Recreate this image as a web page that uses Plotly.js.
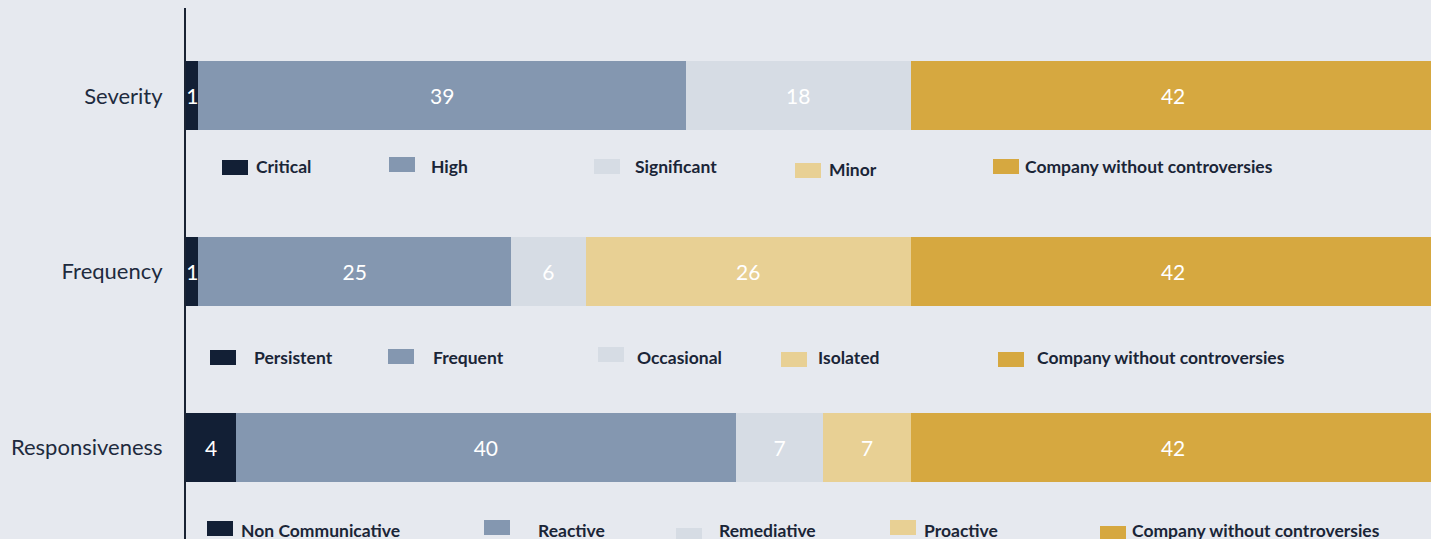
<!DOCTYPE html>
<html>
<head>
<meta charset="utf-8">
<script src="https://cdn.plot.ly/plotly-3.0.1.min.js"></script>
<style>html,body{margin:0;padding:0;background:#e6e9ef;}</style>
</head>
<body>
<div id="chart" style="width:1431px;height:539px;"></div>
<script>
// ---- data ----
const categories = ["Severity", "Frequency", "Responsiveness"];
const level1 = [1, 1, 4];      // Critical / Persistent / Non Communicative
const level2 = [39, 25, 40];   // High / Frequent / Reactive
const level3 = [18, 6, 7];     // Significant / Occasional / Remediative
const level4 = [0, 26, 7];     // Minor / Isolated / Proactive
const noControversy = [42, 42, 42]; // Company without controversies

const severityLabels = ["Critical", "High", "Significant", "Minor", "Company without controversies"];
const frequencyLabels = ["Persistent", "Frequent", "Occasional", "Isolated", "Company without controversies"];
const responsivenessLabels = ["Non Communicative", "Reactive", "Remediative", "Proactive", "Company without controversies"];

const colors = ["#121f35", "#8497b0", "#d6dce4", "#e8d094", "#d6a840"];
const seriesValues = [level1, level2, level3, level4, noControversy];

// ---- traces ----
const traces = seriesValues.map((vals, i) => ({
  type: "bar",
  orientation: "h",
  y: categories,
  x: vals,
  width: 0.393,
  marker: {color: colors[i]},
  text: vals.map(v => v > 0 ? String(v) : ""),
  textposition: "inside",
  insidetextanchor: "middle",
  constraintext: "none",
  textangle: 0,
  insidetextfont: {family: "Lato, sans-serif", size: 21, color: "#ffffff"},
  hoverinfo: "skip",
  showlegend: false
}));

// ---- custom legends under each bar (pixel placement -> paper) ----
const L = 186, T = 8, W = 1245, H = 531;
const px = x => (x - L) / W;
const py = y => 1 - (y - T) / H;

const legendRows = [
  {labels: severityLabels,
   sw: [[222,160],[389,157],[594,159],[795,163],[993,159]],
   tx: [[254,166],[429,166],[633,166],[827,169],[1023,166]]},
  {labels: frequencyLabels,
   sw: [[210,350],[388,349],[598,347],[781,352],[998,352]],
   tx: [[252,357],[431,357],[635,357],[816,357],[1035,357]]},
  {labels: responsivenessLabels,
   sw: [[207,521],[484,520],[676,528],[890,520],[1100,526]],
   tx: [[239,530],[536,530],[717,530],[922,530],[1130,530]]}
];

const shapes = [];
const annotations = [];
legendRows.forEach(row => {
  row.labels.forEach((lab, i) => {
    const [sx, sy] = row.sw[i];
    shapes.push({type: "rect", xref: "paper", yref: "paper",
      x0: px(sx), x1: px(sx + 26), y0: py(sy), y1: py(sy + 15),
      fillcolor: colors[i], line: {width: 0}, layer: "above"});
    const [tx, ty] = row.tx[i];
    annotations.push({xref: "paper", yref: "paper", x: px(tx), y: py(ty),
      xanchor: "left", yanchor: "middle", showarrow: false, text: "<b>" + lab + "</b>",
      font: {family: "Lato, sans-serif", size: 17.5, color: "#1a2537"}});
  });
});

const layout = {
  width: 1431, height: 539,
  margin: {l: L, r: 0, t: T, b: 0, pad: 0},
  paper_bgcolor: "#e6e9ef",
  plot_bgcolor: "#e6e9ef",
  barmode: "stack",
  bargap: 0.6,
  showlegend: false,
  xaxis: {range: [0, 99.64], visible: false, fixedrange: true},
  yaxis: {
    type: "category",
    categoryorder: "array",
    categoryarray: categories,
    range: [2.524, -0.501],
    showline: true, linecolor: "#1a2333", linewidth: 2,
    showgrid: false, zeroline: false, ticks: "",
    ticklabelstandoff: 17,
    tickfont: {family: "Lato, sans-serif", size: 22, color: "#1e2b3e"},
    fixedrange: true
  },
  shapes: shapes,
  annotations: annotations
};

Plotly.newPlot("chart", traces, layout, {displayModeBar: false, staticPlot: true});
</script>
</body>
</html>
